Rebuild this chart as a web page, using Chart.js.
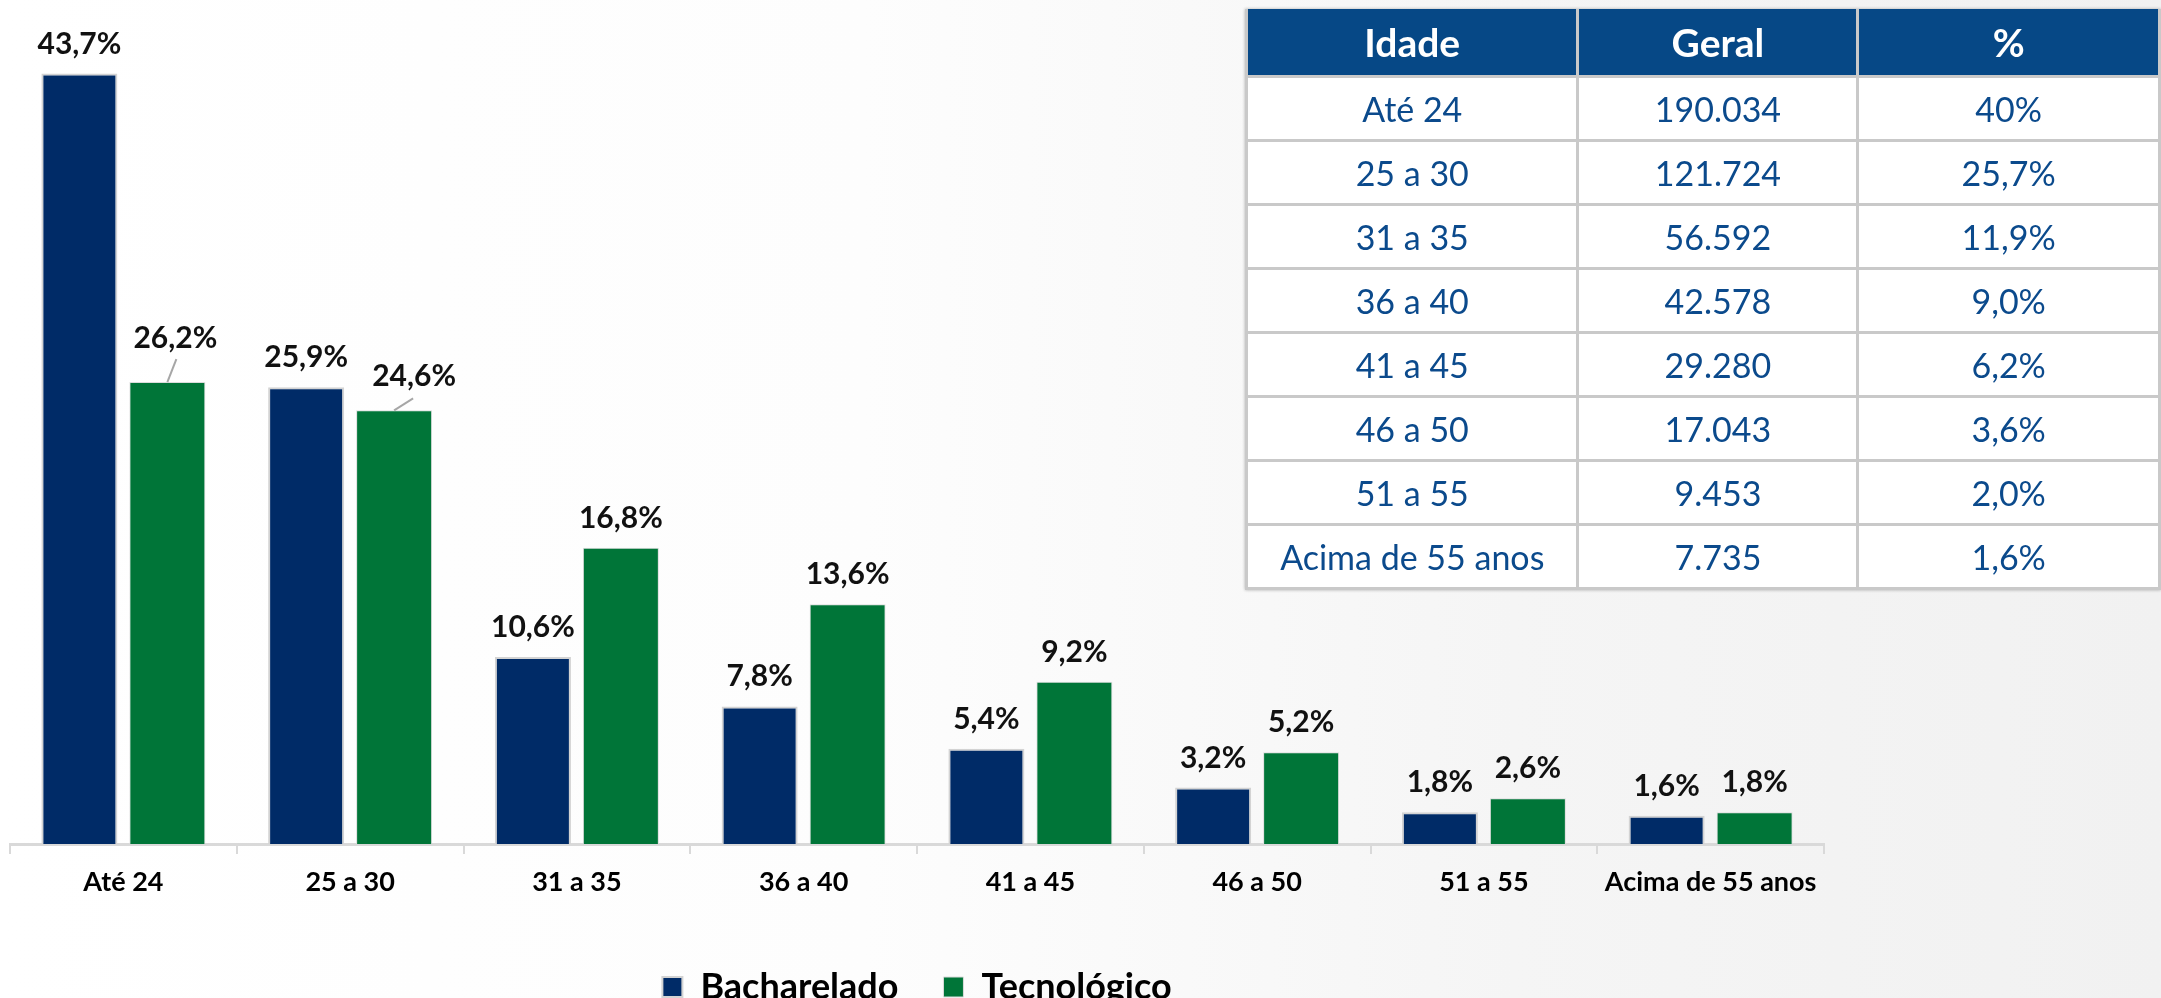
<!DOCTYPE html>
<html lang="pt-BR">
<head>
<meta charset="utf-8">
<title>Faixa etária - Bacharelado x Tecnológico</title>
<script src="https://cdn.jsdelivr.net/npm/chart.js@4.4.1/dist/chart.umd.min.js"></script>
<style>
  html, body { margin: 0; padding: 0; width: 2161px; height: 998px; overflow: hidden; }
  body {
    position: relative;
    font-family: Lato, "Open Sans", sans-serif;
    background: linear-gradient(90deg, #ffffff 0%, #fdfdfd 40%, #f5f5f5 70%, #f1f1f1 100%);
  }
  #wrap { position: absolute; left: 0; top: 0; width: 1834px; height: 1015px; }
  #tabela {
    position: absolute; left: 1245px; top: 9px;
    border-collapse: collapse; background: #fff;
    box-shadow: 0 0 3px rgba(0,0,0,0.3);
    table-layout: fixed;
  }
  #tabela th, #tabela td { text-align: center; padding: 0; border: 3px solid #c9c9c9; }
  #tabela th {
    height: 66px; background: #064886; color: #fff;
    font-weight: bold; font-size: 39px; border-top: none;
  }
  #tabela td { height: 61px; color: #0b4a8c; font-size: 34px; }
</style>
</head>
<body>
<div id="wrap"><canvas id="grafico" width="1834" height="1015"></canvas></div>
<table id="tabela">
  <colgroup><col style="width:341px"><col style="width:286px"><col style="width:310px"></colgroup>
  <thead><tr><th>Idade</th><th>Geral</th><th>%</th></tr></thead>
  <tbody id="corpo"></tbody>
</table>
<script>
var categorias = ["Até 24", "25 a 30", "31 a 35", "36 a 40", "41 a 45", "46 a 50", "51 a 55", "Acima de 55 anos"];
var bacharelado = [43.7, 25.9, 10.6, 7.8, 5.4, 3.2, 1.8, 1.6];
var tecnologico = [26.2, 24.6, 16.8, 13.6, 9.2, 5.2, 2.6, 1.8];

var geral = ["190.034", "121.724", "56.592", "42.578", "29.280", "17.043", "9.453", "7.735"];
var percentual = ["40%", "25,7%", "11,9%", "9,0%", "6,2%", "3,6%", "2,0%", "1,6%"];

// tabela ao lado
var corpo = document.getElementById("corpo");
categorias.forEach(function(c, i) {
    var tr = document.createElement("tr");
    [c, geral[i], percentual[i]].forEach(function(t) {
        var td = document.createElement("td");
        td.textContent = t;
        tr.appendChild(td);
    });
    corpo.appendChild(tr);
});

// rotulos deslocados (com linha de chamada) como no original
var deslocamento = {
    "1-0": {dx: 8, dy: 34, lx: 9, ly: 23},
    "1-1": {dx: 20, dy: 24, lx: 19, ly: 12}
};

var rotulos = {
    id: "rotulos",
    afterDatasetsDraw: function(chart) {
        var ctx = chart.ctx;
        ctx.save();
        ctx.font = "bold 30px Lato";
        ctx.fillStyle = "#111";
        ctx.textAlign = "center";
        ctx.textBaseline = "alphabetic";
        chart.data.datasets.forEach(function(ds, i) {
            chart.getDatasetMeta(i).data.forEach(function(bar, j) {
                var d = deslocamento[i + "-" + j];
                var txt = ds.data[j].toFixed(1).replace(".", ",") + "%";
                if (d) {
                    ctx.strokeStyle = "#a6a6a6";
                    ctx.lineWidth = 2;
                    ctx.beginPath();
                    ctx.moveTo(bar.x, bar.y);
                    ctx.lineTo(bar.x + d.lx, bar.y - d.ly);
                    ctx.stroke();
                    ctx.fillText(txt, bar.x + d.dx, bar.y - d.dy);
                } else {
                    ctx.fillText(txt, bar.x, bar.y - 20);
                }
            });
        });
        ctx.restore();
    }
};

function desenhar() {
    var barData = {
        labels: categorias,
        datasets: [
            {
                label: "Bacharelado",
                backgroundColor: "#002b67",
                borderColor: "#d3d3d3",
                borderWidth: 2,
                data: bacharelado
            },
            {
                label: "Tecnológico",
                backgroundColor: "#007538",
                borderColor: "#dcdcdc",
                borderWidth: 1,
                data: tecnologico
            }
        ]
    };

    var barOptions = {
        responsive: false,
        animation: false,
        categoryPercentage: 0.776,
        barPercentage: 0.864,
        layout: { padding: { top: 33, left: 10, right: 10, bottom: 0 } },
        plugins: {
            legend: {
                position: "bottom",
                labels: {
                    color: "#000",
                    font: { family: "Lato", size: 36, weight: "bold" },
                    boxWidth: 20,
                    boxHeight: 20,
                    padding: 45
                }
            },
            tooltip: { enabled: false }
        },
        scales: {
            x: {
                grid: { display: true, drawOnChartArea: false, drawTicks: true, tickLength: 10, color: "#d9d9d9", lineWidth: 2, offset: true },
                border: { display: true, color: "#d9d9d9", width: 3 },
                ticks: {
                    color: "#000",
                    font: { family: "Lato", size: 27, weight: "bold" },
                    padding: 12,
                    maxRotation: 0,
                    autoSkip: false
                },
                afterFit: function(scale) { scale.height = 80; }
            },
            y: {
                display: false,
                min: 0,
                max: 46
            }
        }
    };

    var ctx = document.getElementById("grafico").getContext("2d");
    new Chart(ctx, {type: "bar", data: barData, options: barOptions, plugins: [rotulos]});
}

document.fonts.load("bold 28px Lato").then(desenhar, desenhar);
</script>
</body>
</html>
